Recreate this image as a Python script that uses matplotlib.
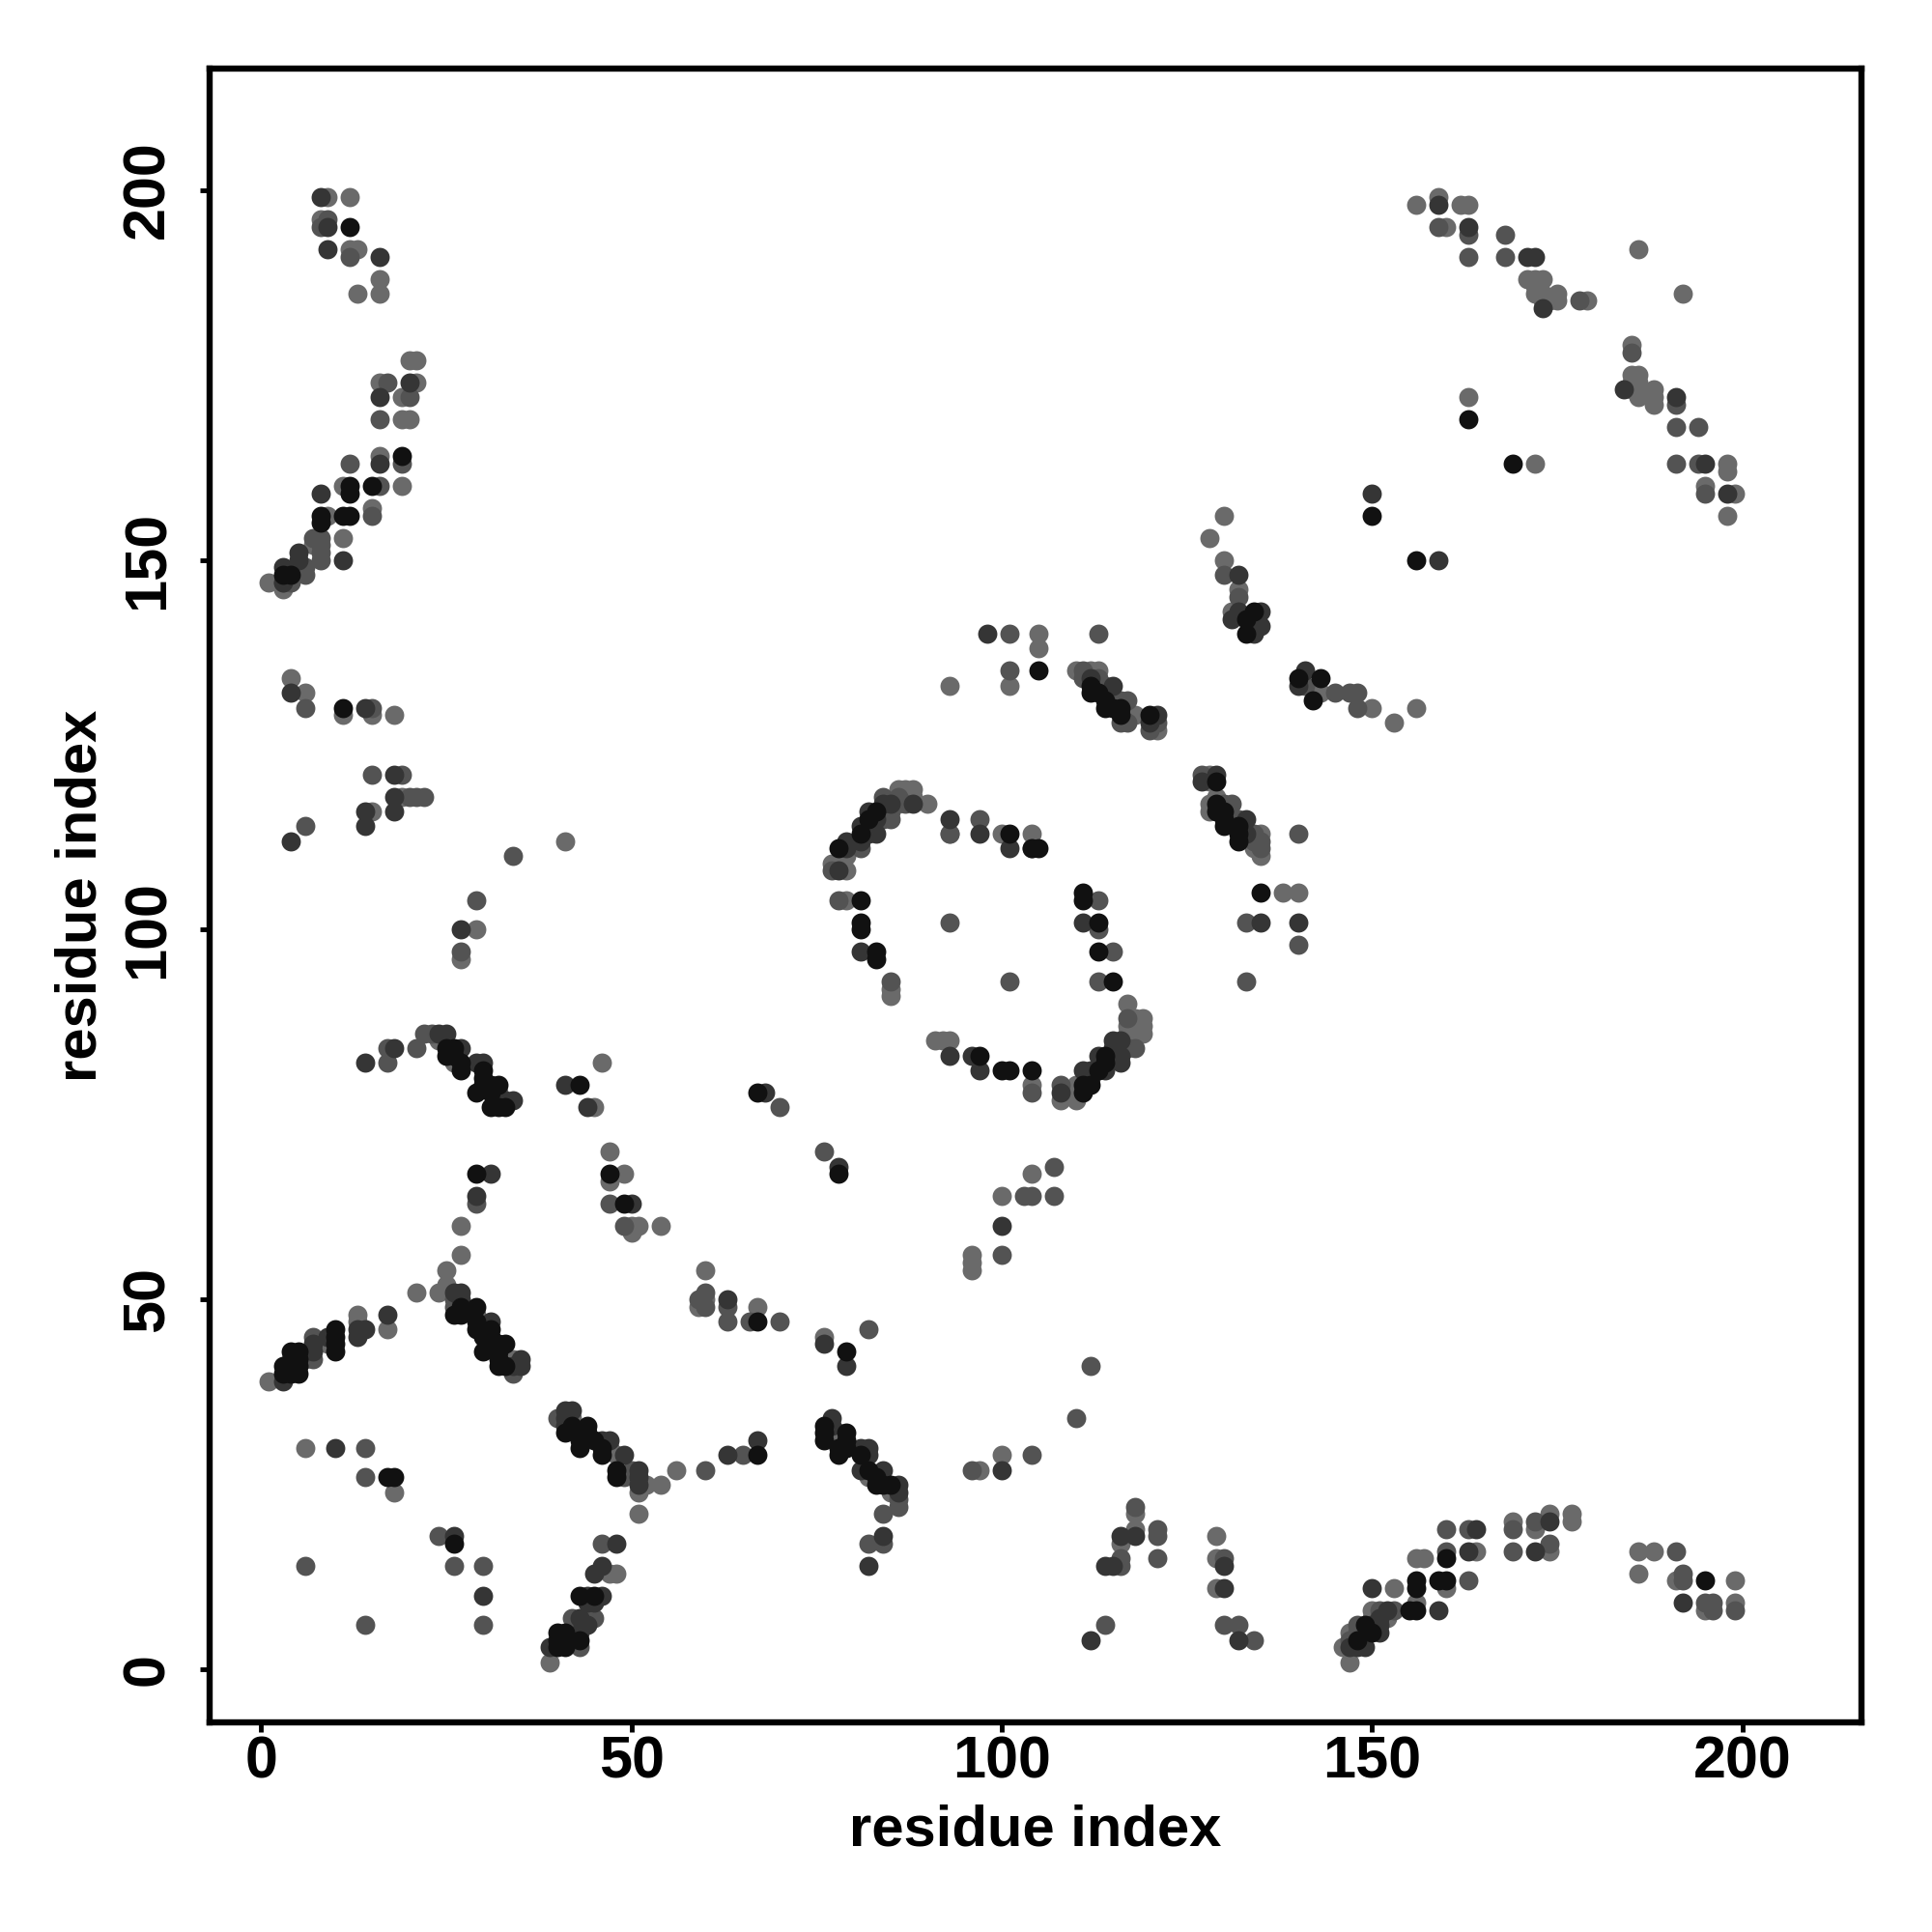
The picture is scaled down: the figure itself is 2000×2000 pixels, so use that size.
import matplotlib
matplotlib.use("Agg")
import matplotlib.pyplot as plt

light = [(9,199),(12,199),(8,196),(13,192),(12,192),(16,188),(13,186),(16,186),(20,177),(21,177),(16,174),(21,174),(19,172),(19,169),(20,169),
(16,164),(11,160),(19,160),(9,156),(15,157),(11,153),(7,152),(1,147),(3,146),
(4,134),(6,132),(11,129),(15,129),(18,129),(19,118),(15,116),(29,100),(27,96),(41,112),
(24,85),(26,82),(32,78),(45,76),(46,82),(47,70),(49,67),(47,66),(50,60),(51,60),(54,60),(50,59),(27,60),(27,56),(25,54),
(100,64),(104,67),(96,56),(96,55),(96,54),(60,54),(60,50),(59,49),(67,49),(76,45),
(1,39),(4,42),(6,42),(9,44),(13,48),(13,47),(17,46),(21,51),(24,51),(25,52),(29,48),(34,42),
(6,30),(42,34),(47,30),(48,29),(51,24),(52,25),(54,25),(56,27),(51,21),(78,32),(82,26),(85,24),(18,24),(97,27),(100,29),
(90,117),(88,119),(87,119),(86,119),(88,118),(87,118),(86,117),(84,116),(82,114),(79,108),(77,109),(78,109),(79,110),
(93,113),(100,113),(104,113),(79,104),(85,92),(85,91),(91,85),(92,85),(93,85),
(117,90),(119,88),(118,88),(119,87),(118,87),(117,87),(119,86),(118,86),(117,86),(110,79),(110,78),(110,77),(108,77),(104,79),
(110,135),(112,135),(113,135),(118,129),(121,127),(128,121),(128,120),(128,117),(128,116),(129,118),(135,113),(134,111),(135,110),
(93,133),(105,140),(105,138),(101,133),(138,105),(140,105),(128,153),(130,156),(130,150),(132,146),(131,143),(143,132),(150,130),(153,128),(156,130),
(163,172),(172,163),(156,198),(159,199),(162,198),(163,198),(160,195),(186,192),(192,186),(171,188),(172,188),(173,188),(172,187),(172,186),(173,186),(175,186),(174,185),(175,185),(173,185),(179,185),
(185,179),(185,175),(186,175),(185,174),(186,174),(185,173),(186,173),(186,172),(188,173),(188,172),(188,171),(198,163),(198,162),(195,160),(199,159),(198,156),
(147,1),(146,3),(147,5),(150,8),(152,7),(150,7),(153,11),(156,9),(160,11),(156,15),(157,15),(164,16),(169,20),(172,19),(174,21),(174,16),(177,21),(177,20),
(186,16),(188,16),(186,13),(191,12),(199,12),(195,8),(199,9),(116,17),(118,21),(118,19),(129,18),(129,15),(129,11),(39,1),(47,13),(48,13)]

mid = [(8,195),(9,196),(12,191),(20,172),(17,174),(16,169),(12,163),(19,163),(16,160),(15,156),(8,153),(8,152),(8,151),(8,150),(7,153),(5,149),(6,149),(6,148),(4,147),(3,147),
(6,130),(15,130),(15,121),(19,121),(20,118),(22,118),(21,118),(6,114),(29,104),(27,97),(34,110),
(17,84),(17,82),(21,84),(22,86),(23,86),(47,63),(49,60),(29,63),(70,76),(76,70),
(103,64),(104,64),(107,64),(107,68),(100,56),(59,50),(60,49),(60,51),(63,49),(63,47),(66,47),(70,47),(82,46),(112,41),(110,34),
(4,41),(7,45),(7,42),(26,50),(26,49),(14,30),(34,40),(14,26),(30,14),(26,14),(6,14),(14,6),(30,6),(24,18),
(40,34),(49,26),(50,27),(60,27),(65,29),(86,23),(86,22),(84,21),(84,17),(96,27),(104,29),(82,17),
(86,118),(84,118),(87,117),(85,116),(85,115),(84,115),(81,111),(77,108),(93,113),(97,115),(104,111),(78,104),(85,93),(113,104),(113,100),(115,97),(113,93),(93,101),(101,93),
(118,84),(117,84),(117,88),(108,79),(104,78),(111,135),(111,134),(113,134),(114,133),(115,131),(116,131),(117,131),(116,128),(117,128),(120,127),(121,128),
(127,121),(130,117),(131,117),(132,115),(131,115),(134,113),(134,112),(135,112),(135,111),(140,113),(133,101),(140,98),(133,93),
(101,140),(101,135),(113,140),(130,148),(132,145),(141,133),(145,132),(147,132),(148,132),(148,130),
(159,195),(163,194),(168,194),(163,191),(168,191),(185,178),(178,185),(191,171),(191,168),(194,168),(191,163),(194,163),(195,159),
(147,4),(148,6),(148,5),(149,5),(151,8),(153,8),(163,12),(160,16),(160,19),(163,19),(169,19),(169,16),(172,20),(174,17),
(191,16),(192,13),(192,12),(195,9),(196,9),(196,8),(199,8),(114,6),(116,15),(116,14),(118,22),(121,19),(121,18),(121,15),(130,15),(130,6),(132,6),(134,4),
(43,3),(42,7),(45,7),(46,17)]

dark = [(8,199),(9,195),(9,192),(16,191),(16,172),(20,174),(16,163),(8,159),(11,150),(5,151),(5,150),(3,149),(3,147),
(4,132),(14,130),(18,121),(18,118),(18,116),(14,116),(14,114),(14,82),(4,112),(27,100),
(18,84),(24,86),(25,86),(27,84),(29,82),(30,82),(33,77),(34,77),(41,79),(44,76),(50,63),(29,64),(31,67),(68,78),(78,68),(100,60),(63,50),(76,44),(79,41),
(3,39),(7,44),(7,43),(9,45),(13,45),(14,46),(13,46),(17,48),(26,51),(27,51),(27,50),(31,47),(35,42),(35,41),(34,41),(10,30),(30,10),(26,18),
(41,35),(42,35),(41,34),(41,33),(46,31),(47,31),(49,29),(51,27),(51,26),(51,25),(63,29),(67,31),
(77,34),(77,33),(81,30),(82,30),(82,29),(81,27),(84,27),(86,25),(86,24),(84,18),(82,14),(100,27),
(88,117),(85,117),(84,117),(82,116),(83,115),(81,114),(83,113),(82,113),(81,112),(79,112),(79,111),(78,108),(93,115),(97,113),(101,111),(81,97),(111,101),
(116,85),(115,85),(115,84),(116,83),(113,83),(116,82),(114,81),(112,81),(111,81),(112,80),(108,78),(93,83),(96,83),(97,81),
(112,134),(115,133),(121,129),(120,128),(127,120),(129,121),(133,115),(133,113),(135,101),(140,101),(98,140),
(132,148),(132,143),(135,143),(131,142),(135,141),(134,140),(141,135),(140,133),
(150,159),(159,150),(159,198),(163,195),(171,191),(172,191),(173,184),(184,173),(191,172),(195,163),(198,159),
(147,3),(148,3),(149,3),(150,6),(151,5),(151,7),(152,8),(151,6),(150,11),(159,8),(163,16),(164,19),(174,20),(172,16),
(192,9),(112,4),(114,14),(115,14),(116,18),(118,18),(130,14),(130,11),(132,4),
(39,3),(43,5),(43,7),(44,6),(44,10),(46,10),(44,9),(45,9),(45,13),(46,14),(48,17)]

black = [(12,195),(12,160),(12,159),(15,160),(19,164),(8,156),(11,156),(12,156),(8,155),(4,148),(3,148),
(11,130),(25,84),(25,83),(26,84),(26,83),(27,82),(27,81),(30,81),(30,80),(29,78),(30,79),(32,79),(31,79),(31,78),(31,76),(32,76),(33,76),
(43,79),(47,67),(49,63),(29,67),(67,78),(78,67),(67,47),(79,43),
(3,40),(3,41),(4,40),(5,40),(5,41),(4,43),(5,43),(5,42),(10,46),(10,45),(10,44),(10,43),
(26,48),(27,49),(27,48),(29,49),(29,47),(29,46),(31,46),(31,45),(30,45),(30,43),(32,44),(33,44),(32,43),(32,41),(32,42),(33,41),
(17,26),(18,26),(26,17),(41,32),(42,33),(43,32),(44,33),(43,31),(43,30),(44,32),(45,31),(46,29),(46,30),(48,27),(48,26),(67,29),
(76,33),(76,32),(76,31),(79,32),(79,31),(78,30),(78,29),(79,30),(81,29),(82,27),(83,26),(83,25),(85,25),(84,25),
(83,116),(82,115),(81,113),(78,111),(101,113),(104,111),(105,111),(81,104),(81,101),(81,100),(83,97),(83,96),
(111,105),(111,104),(113,101),(113,97),(115,93),(114,83),(114,82),(113,81),(112,79),(111,79),(111,78),(104,81),(97,83),(100,81),(101,81),
(112,133),(112,132),(113,132),(114,131),(114,130),(115,130),(116,130),(116,129),(120,129),(129,120),(129,117),(129,116),(130,116),(130,115),(130,114),(132,114),(132,113),(132,112),(135,105),
(105,135),(134,143),(133,142),(133,140),(140,134),(143,134),(142,131),(150,156),(156,150),(163,169),(169,163),
(148,4),(149,6),(150,5),(155,8),(156,8),(156,11),(156,12),(159,12),(160,12),(160,15),(195,12),
(40,3),(40,5),(41,5),(40,4),(41,3),(43,4),(43,10),(45,10)]

groups = [(light, "#6a6a6a"), (mid, "#535353"), (dark, "#353535"), (black, "#111111")]
x_ticks = [0, 50, 100, 150, 200]
y_ticks = [0, 50, 100, 150, 200]
x_label = "residue index"
y_label = "residue index"

plt.rcParams["font.family"] = ["Liberation Sans", "DejaVu Sans"]
fig = plt.figure(figsize=(20, 20), dpi=100)
ax = fig.add_axes([217/2000, 1 - 1783/2000, (1927-217)/2000, (1783-71)/2000])
for pts, col in groups:
    ax.scatter([p[0] for p in pts], [p[1] for p in pts], s=205, c=col, linewidths=0, zorder=3)
ax.set_xlim(-6.97, 216.1)
ax.set_ylim(-7.14, 216.4)
ax.set_xticks(x_ticks)
ax.set_yticks(y_ticks)
for s in ax.spines.values():
    s.set_linewidth(4.6)
ax.tick_params(axis="both", length=7, width=3.5, labelsize=44)
ax.tick_params(axis="x", pad=3)
ax.tick_params(axis="y", pad=18)
for t in ax.get_xticklabels():
    t.set_fontweight("bold")
for t in ax.get_yticklabels():
    t.set_fontweight("bold")
    t.set_rotation(90)
    t.set_va("center")
ax.set_xlabel(x_label, fontsize=43, fontweight="bold", labelpad=10)
ax.set_ylabel(y_label, fontsize=43, fontweight="bold", labelpad=10)
fig.savefig("out.png", dpi=100, facecolor="white")
